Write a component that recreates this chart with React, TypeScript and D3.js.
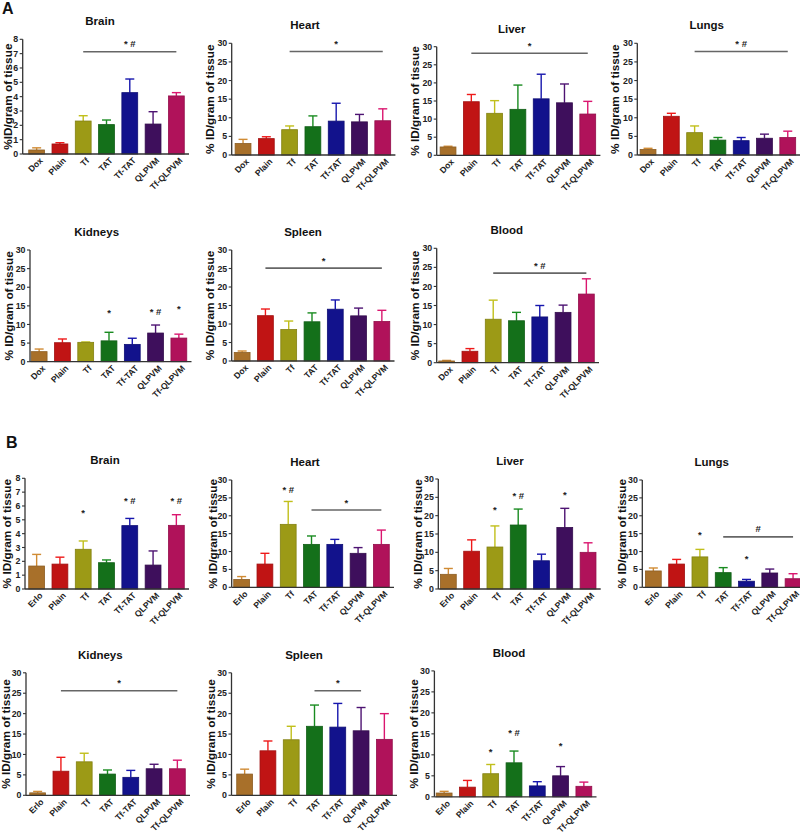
import React from "react";
import * as d3 from "d3";

// ---------- categories & ticks ----------
const categoriesA = ["Dox", "Plain", "Tf", "TAT", "Tf-TAT", "QLPVM", "Tf-QLPVM"];
const categoriesB = ["Erlo", "Plain", "Tf", "TAT", "Tf-TAT", "QLPVM", "Tf-QLPVM"];
const yTicks8 = [0, 1, 2, 3, 4, 5, 6, 7, 8];
const yTicks30 = [0, 5, 10, 15, 20, 25, 30];

// ---------- panel A (Dox) : mean and SD ----------
const aBrainMean = [0.28, 0.7, 2.3, 2.05, 4.28, 2.09, 4.05];
const aBrainSD = [0.15, 0.09, 0.37, 0.32, 0.95, 0.86, 0.23];
const aHeartMean = [3.1, 4.4, 6.8, 7.6, 9.1, 8.9, 9.2];
const aHeartSD = [1.1, 0.5, 1.0, 2.9, 4.8, 2.0, 3.2];
const aLiverMean = [2.3, 14.8, 11.6, 12.7, 15.6, 14.5, 11.4];
const aLiverSD = [0.2, 2.0, 3.5, 6.7, 6.8, 5.2, 3.5];
const aLungsMean = [1.5, 10.4, 6.0, 4.0, 3.85, 4.5, 4.7];
const aLungsSD = [0.3, 0.8, 1.8, 0.7, 0.85, 1.1, 1.7];
const aKidneysMean = [2.7, 5.1, 5.2, 5.6, 4.65, 7.7, 6.35];
const aKidneysSD = [0.7, 1.0, 0.1, 2.3, 1.65, 2.15, 1.05];
const aSpleenMean = [2.3, 12.25, 8.5, 10.6, 14.0, 12.2, 10.7];
const aSpleenSD = [0.4, 1.8, 2.3, 2.4, 2.5, 2.1, 3.0];
const aBloodMean = [0.45, 3.0, 11.4, 11.0, 12.0, 13.2, 18.0];
const aBloodSD = [0.15, 0.7, 5.0, 2.2, 3.0, 1.9, 4.0];

// ---------- panel B (Erlo) : mean and SD ----------
const bBrainMean = [1.66, 1.8, 2.87, 1.9, 4.58, 1.73, 4.6];
const bBrainSD = [0.84, 0.5, 0.6, 0.2, 0.52, 1.02, 0.77];
const bHeartMean = [2.2, 6.5, 17.6, 12.0, 12.0, 9.5, 12.0];
const bHeartSD = [0.8, 3.0, 6.4, 2.35, 1.4, 1.6, 4.0];
const bLiverMean = [4.0, 10.3, 11.45, 17.45, 7.7, 16.8, 10.0];
const bLiverSD = [1.6, 3.1, 5.75, 4.35, 1.8, 5.2, 2.6];
const bLungsMean = [4.57, 6.5, 8.5, 4.1, 1.7, 4.0, 2.4];
const bLungsSD = [0.83, 1.3, 2.1, 1.4, 0.5, 1.1, 1.4];
const bKidneysMean = [0.6, 5.9, 8.2, 5.2, 4.4, 6.5, 6.5];
const bKidneysSD = [0.35, 3.4, 2.1, 1.0, 1.7, 1.1, 2.1];
const bSpleenMean = [5.2, 10.9, 13.6, 16.9, 16.7, 15.8, 13.7];
const bSpleenSD = [1.2, 2.4, 3.3, 5.2, 5.8, 5.7, 6.3];
const bBloodMean = [0.9, 2.3, 5.5, 8.1, 2.6, 5.0, 2.5];
const bBloodSD = [0.4, 1.6, 2.2, 2.8, 1.0, 2.2, 1.0];

// ---------- significance annotations (data units) ----------
type Sig = { from: string; to: string; value: number; label: string };
type Mark = { cat: string; value: number; label: string };

const aBrainSig: Sig[] = [{ from: "Tf", to: "Tf-QLPVM", value: 7.13, label: "* #" }];
const aHeartSig: Sig[] = [{ from: "Tf", to: "Tf-QLPVM", value: 27.8, label: "*" }];
const aLiverSig: Sig[] = [{ from: "Plain", to: "Tf-QLPVM", value: 28.2, label: "*" }];
const aLungsSig: Sig[] = [{ from: "Tf", to: "Tf-QLPVM", value: 27.8, label: "* #" }];
const aSpleenSig: Sig[] = [{ from: "Plain", to: "Tf-QLPVM", value: 25.1, label: "*" }];
const aBloodSig: Sig[] = [{ from: "Tf", to: "Tf-QLPVM", value: 23.5, label: "* #" }];
const aKidneysMarks: Mark[] = [
  { cat: "TAT", value: 12.3, label: "*" },
  { cat: "QLPVM", value: 12.5, label: "* #" },
  { cat: "Tf-QLPVM", value: 13.3, label: "*" },
];
const bBrainMarks: Mark[] = [
  { cat: "Tf", value: 5.27, label: "*" },
  { cat: "Tf-TAT", value: 6.15, label: "* #" },
  { cat: "Tf-QLPVM", value: 6.15, label: "* #" },
];
const bHeartMarks: Mark[] = [{ cat: "Tf", value: 26.4, label: "* #" }];
const bHeartSig: Sig[] = [{ from: "TAT", to: "Tf-QLPVM", value: 21.6, label: "*" }];
const bLiverMarks: Mark[] = [
  { cat: "Tf", value: 20.7, label: "*" },
  { cat: "TAT", value: 24.5, label: "* #" },
  { cat: "QLPVM", value: 24.8, label: "*" },
];
const bLungsMarks: Mark[] = [
  { cat: "Tf", value: 13.8, label: "*" },
  { cat: "Tf-TAT", value: 7.2, label: "*" },
];
const bLungsSig: Sig[] = [{ from: "TAT", to: "Tf-QLPVM", value: 14.1, label: "#" }];
const bKidneysSig: Sig[] = [{ from: "Plain", to: "Tf-QLPVM", value: 25.6, label: "*" }];
const bSpleenSig: Sig[] = [{ from: "TAT", to: "QLPVM", value: 25.6, label: "*" }];
const bBloodMarks: Mark[] = [
  { cat: "Tf", value: 9.95, label: "*" },
  { cat: "TAT", value: 14.5, label: "* #" },
  { cat: "QLPVM", value: 11.4, label: "*" },
];

// ---------- styles ----------
const barColors = ["#a8702a", "#c01414", "#9c9a16", "#14701a", "#12128c", "#3e0f5c", "#b0125a"];
const FONT = "'Liberation Sans', Arial, Helvetica, sans-serif";
const AXIS = "#333";

type PanelDef = {
  title: string;
  cats: string[];
  mean: number[];
  sd: number[];
  max: number;
  ticks: number[];
  ylabel: string;
  sig?: Sig[];
  marks?: Mark[];
  ax: number;
  bs: number;
  top: number;
  bot: number;
  tx: number;
  lo: number;
};

const YL = "% ID/gram of tissue";

const panels: PanelDef[] = [
  { title: "Brain", cats: categoriesA, mean: aBrainMean, sd: aBrainSD, max: 8, ticks: yTicks8, ylabel: "%ID/gram of tissue", sig: aBrainSig, ax: 22.7, bs: 25, top: 39.3, bot: 154, tx: 100, lo: 14.5 },
  { title: "Heart", cats: categoriesA, mean: aHeartMean, sd: aHeartSD, max: 30, ticks: yTicks30, ylabel: YL, sig: aHeartSig, ax: 231.7, bs: 231.4, top: 43.3, bot: 155, tx: 305, lo: 21.5 },
  { title: "Liver", cats: categoriesA, mean: aLiverMean, sd: aLiverSD, max: 30, ticks: yTicks30, ylabel: YL, sig: aLiverSig, ax: 436.7, bs: 436.4, top: 46.7, bot: 155.3, tx: 511.7, lo: 21.5 },
  { title: "Lungs", cats: categoriesA, mean: aLungsMean, sd: aLungsSD, max: 30, ticks: yTicks30, ylabel: YL, sig: aLungsSig, ax: 637.3, bs: 636.4, top: 43.3, bot: 155, tx: 706.7, lo: 22 },
  { title: "Kidneys", cats: categoriesA, mean: aKidneysMean, sd: aKidneysSD, max: 30, ticks: yTicks30, ylabel: YL, marks: aKidneysMarks, ax: 30, bs: 27.5, top: 250, bot: 361.7, tx: 96.7, lo: 21.5 },
  { title: "Spleen", cats: categoriesA, mean: aSpleenMean, sd: aSpleenSD, max: 30, ticks: yTicks30, ylabel: YL, sig: aSpleenSig, ax: 231.7, bs: 230.5, top: 250, bot: 361, tx: 303, lo: 21.5 },
  { title: "Blood", cats: categoriesA, mean: aBloodMean, sd: aBloodSD, max: 30, ticks: yTicks30, ylabel: YL, sig: aBloodSig, ax: 436.7, bs: 435, top: 248.3, bot: 362.7, tx: 506.7, lo: 21.5 },
  { title: "Brain", cats: categoriesB, mean: bBrainMean, sd: bBrainSD, max: 8, ticks: yTicks8, ylabel: YL, marks: bBrainMarks, ax: 25, bs: 25, top: 478.3, bot: 589, tx: 105, lo: 18 },
  { title: "Heart", cats: categoriesB, mean: bHeartMean, sd: bHeartSD, max: 30, ticks: yTicks30, ylabel: YL, marks: bHeartMarks, sig: bHeartSig, ax: 231.7, bs: 230, top: 480, bot: 587.3, tx: 305, lo: 19 },
  { title: "Liver", cats: categoriesB, mean: bLiverMean, sd: bLiverSD, max: 30, ticks: yTicks30, ylabel: YL, marks: bLiverMarks, ax: 438.3, bs: 436.7, top: 479, bot: 589, tx: 510, lo: 20 },
  { title: "Lungs", cats: categoriesB, mean: bLungsMean, sd: bLungsSD, max: 30, ticks: yTicks30, ylabel: YL, marks: bLungsMarks, sig: bLungsSig, ax: 642.3, bs: 641.7, top: 480, bot: 587.3, tx: 711.7, lo: 20.5 },
  { title: "Kidneys", cats: categoriesB, mean: bKidneysMean, sd: bKidneysSD, max: 30, ticks: yTicks30, ylabel: YL, sig: bKidneysSig, ax: 26, bs: 26, top: 672.8, bot: 795.3, tx: 100.3, lo: 20.5 },
  { title: "Spleen", cats: categoriesB, mean: bSpleenMean, sd: bSpleenSD, max: 30, ticks: yTicks30, ylabel: YL, sig: bSpleenSig, ax: 231.5, bs: 233, top: 672.8, bot: 795.3, tx: 304, lo: 20.5 },
  { title: "Blood", cats: categoriesB, mean: bBloodMean, sd: bBloodSD, max: 30, ticks: yTicks30, ylabel: YL, marks: bBloodMarks, ax: 434.4, bs: 432.5, top: 670.9, bot: 796.8, tx: 509, lo: 20.5 },
];

const BAND_W = 163;

function Panel({ p }: { p: PanelDef }) {
  const y = d3.scaleLinear().domain([0, p.max]).range([p.bot, p.top]);
  const x = d3
    .scaleBand<string>()
    .domain(p.cats)
    .range([p.bs, p.bs + BAND_W])
    .paddingInner(0.32)
    .paddingOuter(0.16);
  const bw = x.bandwidth();
  const cx = (c: string) => (x(c) as number) + bw / 2;
  const xEnd = p.bs + BAND_W + 1;
  return (
    <g fontFamily={FONT} fontWeight="bold">
      <text x={p.tx} y={p.top - 14} textAnchor="middle" fontSize={11.5} fill="#111">
        {p.title}
      </text>
      <text
        transform={`translate(${p.ax - p.lo},${(p.top + p.bot) / 2}) rotate(-90)`}
        textAnchor="middle"
        dy="0.35em"
        fontSize={11.8}
        fill="#111"
      >
        {p.ylabel}
      </text>
      {p.cats.map((c, i) => {
        const col = barColors[i];
        const v = p.mean[i];
        const top = y(v);
        const eTop = y(v + p.sd[i]);
        const ec = d3.color(col)!.brighter(0.6).formatHex();
        const sc = d3.color(col)!.darker(0.5).formatHex();
        return (
          <g key={c}>
            <line x1={cx(c)} x2={cx(c)} y1={top} y2={eTop} stroke={ec} strokeWidth={1.4} />
            <line x1={cx(c) - 4.5} x2={cx(c) + 4.5} y1={eTop} y2={eTop} stroke={ec} strokeWidth={1.4} />
            <rect x={x(c)} y={top} width={bw} height={p.bot - top} fill={col} stroke={sc} strokeWidth={0.8} />
          </g>
        );
      })}
      <line x1={p.ax} x2={p.ax} y1={p.bot} y2={p.top} stroke={AXIS} strokeWidth={1.3} />
      <line x1={p.ax} x2={xEnd} y1={p.bot} y2={p.bot} stroke={AXIS} strokeWidth={1.3} />
      {p.ticks.map((t) => (
        <g key={t}>
          <line x1={p.ax - 3} x2={p.ax} y1={y(t)} y2={y(t)} stroke={AXIS} strokeWidth={1.1} />
          <text x={p.ax - 4.5} y={y(t)} dy="0.35em" textAnchor="end" fontSize={8.8} fill="#222">
            {t}
          </text>
        </g>
      ))}
      {p.cats.map((c) => (
        <text
          key={c}
          transform={`translate(${cx(c) + 4.5},${p.bot + 5}) rotate(-45)`}
          textAnchor="end"
          dy="0.35em"
          fontSize={8.6}
          fill="#222"
        >
          {c}
        </text>
      ))}
      {(p.sig || []).map((s, i) => {
        const x1 = cx(s.from);
        const x2 = cx(s.to);
        const yy = y(s.value);
        return (
          <g key={"s" + i}>
            <line x1={x1} x2={x2} y1={yy} y2={yy} stroke="#666" strokeWidth={1.6} />
            <text x={(x1 + x2) / 2} y={yy - 4.5} textAnchor="middle" fontSize={9.5} fill="#222">
              {s.label}
            </text>
          </g>
        );
      })}
      {(p.marks || []).map((m, i) => (
        <text key={"m" + i} x={cx(m.cat)} y={y(m.value)} textAnchor="middle" fontSize={9.5} fill="#222">
          {m.label}
        </text>
      ))}
    </g>
  );
}

export default function App() {
  return (
    <svg
      width={800}
      height={835}
      viewBox="0 0 800 835"
      style={{ position: "absolute", left: 0, top: 0, background: "#fff", display: "block" }}
    >
      <rect x={0} y={0} width={800} height={835} fill="#fff" />
      <text x={2} y={14} fontFamily={FONT} fontWeight="bold" fontSize={16} fill="#111">
        A
      </text>
      <text x={6} y={448} fontFamily={FONT} fontWeight="bold" fontSize={16} fill="#111">
        B
      </text>
      {panels.map((p, i) => (
        <Panel key={i} p={p} />
      ))}
    </svg>
  );
}
